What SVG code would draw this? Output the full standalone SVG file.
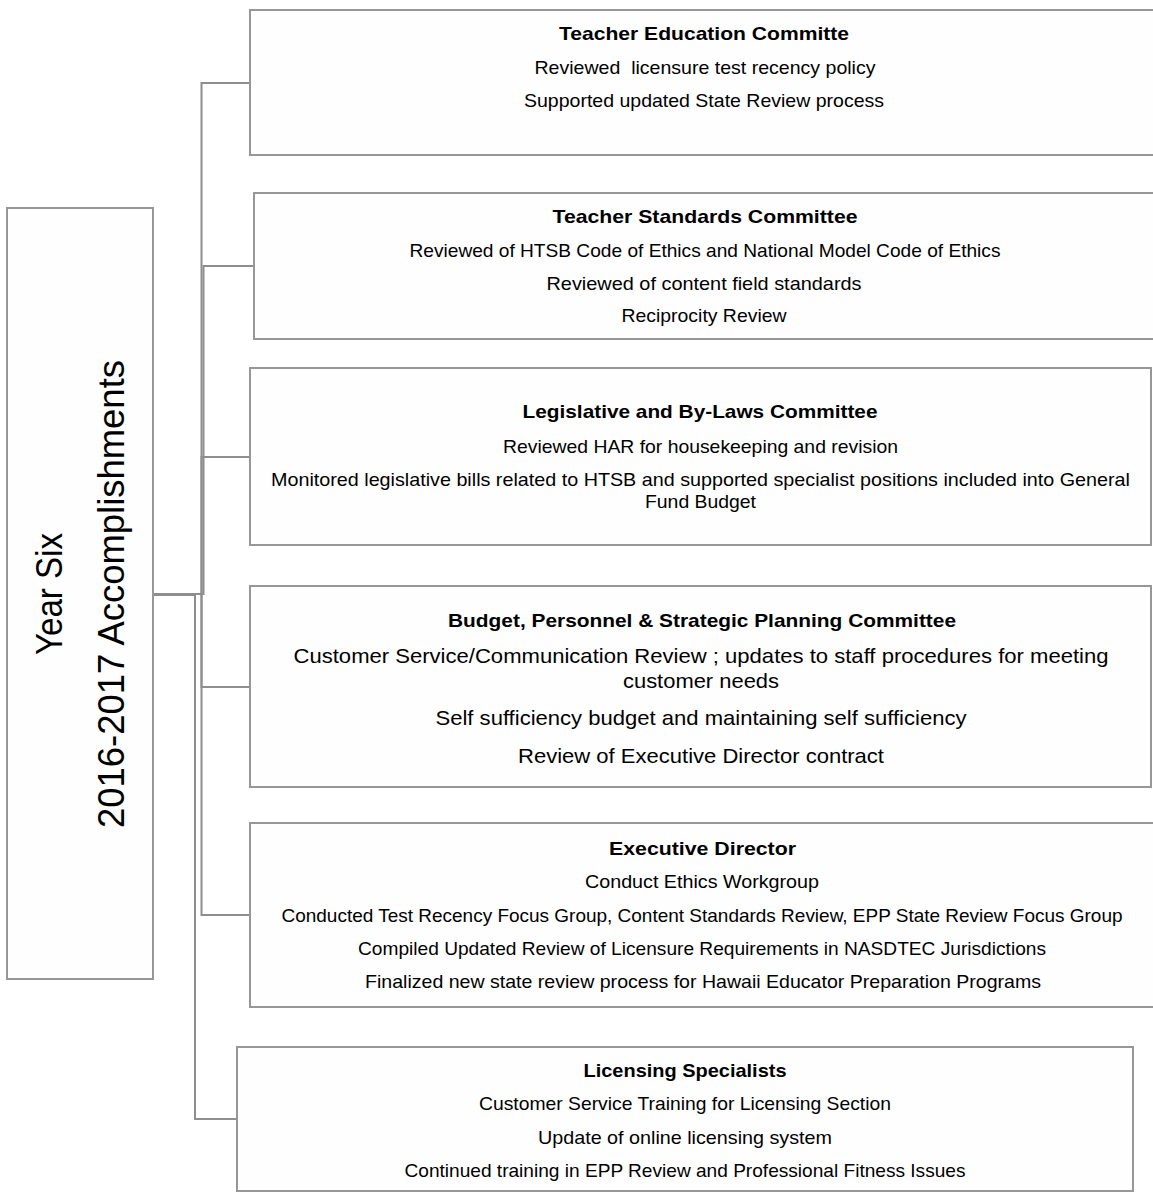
<svg xmlns="http://www.w3.org/2000/svg" width="1153" height="1193" viewBox="0 0 1153 1193">
<style>
.box{fill:#fefefe;stroke:#979797;stroke-width:2}
.conn{fill:none;stroke:#8e8e8e;stroke-width:2}
text{font-family:"Liberation Sans",Arial,sans-serif;fill:#000;text-anchor:middle}
.h{font-weight:bold;font-size:19px}
.t{font-size:19px}
.t2{font-size:21px}
.root{font-size:36px}
</style>
<rect width="1153" height="1193" fill="#ffffff"/>
<g id="connectors">
<path class="conn" d="M153,594 H201.5 V83 H250"/>
<path class="conn" d="M153,594 H203.5 V266 H254"/>
<path class="conn" d="M153,594 H201.5 V457 H250"/>
<path class="conn" d="M153,594 H201.5 V687 H250"/>
<path class="conn" d="M153,594 H201.5 V915 H250"/>
<path class="conn" d="M153,595 H195 V1119 H237"/>
</g>
<g id="root">
<rect class="box" x="7" y="208" width="146" height="771"/>
<text class="root" transform="translate(62,594) rotate(-90)" textLength="122" lengthAdjust="spacingAndGlyphs">Year Six</text>
<text class="root" transform="translate(124,594) rotate(-90)" textLength="468" lengthAdjust="spacingAndGlyphs">2016-2017 Accomplishments</text>
</g>
<g id="teacher-education">
<rect class="box" x="250" y="10" width="910" height="145"/>
<text class="h" x="704" y="40" textLength="290" lengthAdjust="spacingAndGlyphs">Teacher Education Committe</text>
<text class="t" x="705" y="74" textLength="341" lengthAdjust="spacingAndGlyphs" xml:space="preserve">Reviewed  licensure test recency policy</text>
<text class="t" x="704" y="107" textLength="360" lengthAdjust="spacingAndGlyphs">Supported updated State Review process</text>
</g>
<g id="teacher-standards">
<rect class="box" x="254" y="193" width="906" height="146"/>
<text class="h" x="705" y="223" textLength="305" lengthAdjust="spacingAndGlyphs">Teacher Standards Committee</text>
<text class="t" x="705" y="257" textLength="591" lengthAdjust="spacingAndGlyphs">Reviewed of HTSB Code of Ethics and National Model Code of Ethics</text>
<text class="t" x="704" y="290" textLength="315" lengthAdjust="spacingAndGlyphs">Reviewed of content field standards</text>
<text class="t" x="704" y="322" textLength="165" lengthAdjust="spacingAndGlyphs">Reciprocity Review</text>
</g>
<g id="legislative">
<rect class="box" x="250" y="368" width="901" height="177"/>
<text class="h" x="700" y="418" textLength="355" lengthAdjust="spacingAndGlyphs">Legislative and By-Laws Committee</text>
<text class="t" x="700.5" y="453" textLength="395" lengthAdjust="spacingAndGlyphs">Reviewed HAR for housekeeping and revision</text>
<text class="t" x="700.5" y="486" textLength="859" lengthAdjust="spacingAndGlyphs">Monitored legislative bills related to HTSB and supported specialist positions included into General</text>
<text class="t" x="700.5" y="508" textLength="111" lengthAdjust="spacingAndGlyphs">Fund Budget</text>
</g>
<g id="budget">
<rect class="box" x="250" y="586" width="901" height="201"/>
<text class="h" x="702" y="627" textLength="508" lengthAdjust="spacingAndGlyphs">Budget, Personnel &amp; Strategic Planning Committee</text>
<text class="t2" x="701" y="663" textLength="815" lengthAdjust="spacingAndGlyphs">Customer Service/Communication Review ; updates to staff procedures for meeting</text>
<text class="t2" x="701" y="688" textLength="156" lengthAdjust="spacingAndGlyphs">customer needs</text>
<text class="t2" x="701" y="725" textLength="531" lengthAdjust="spacingAndGlyphs">Self sufficiency budget and maintaining self sufficiency</text>
<text class="t2" x="701" y="763" textLength="366" lengthAdjust="spacingAndGlyphs">Review of Executive Director contract</text>
</g>
<g id="executive-director">
<rect class="box" x="250" y="823" width="906" height="184"/>
<text class="h" x="702.5" y="855" textLength="187" lengthAdjust="spacingAndGlyphs">Executive Director</text>
<text class="t" x="702" y="888" textLength="234" lengthAdjust="spacingAndGlyphs">Conduct Ethics Workgroup</text>
<text class="t" x="702" y="922" textLength="841" lengthAdjust="spacingAndGlyphs">Conducted Test Recency Focus Group, Content Standards Review, EPP State Review Focus Group</text>
<text class="t" x="702" y="955" textLength="688" lengthAdjust="spacingAndGlyphs">Compiled Updated Review of Licensure Requirements in NASDTEC Jurisdictions</text>
<text class="t" x="703" y="988" textLength="676" lengthAdjust="spacingAndGlyphs">Finalized new state review process for Hawaii Educator Preparation Programs</text>
</g>
<g id="licensing-specialists">
<rect class="box" x="237" y="1047" width="896" height="144"/>
<text class="h" x="685" y="1077" textLength="203" lengthAdjust="spacingAndGlyphs">Licensing Specialists</text>
<text class="t" x="685" y="1110" textLength="412" lengthAdjust="spacingAndGlyphs">Customer Service Training for Licensing Section</text>
<text class="t" x="685" y="1144" textLength="294" lengthAdjust="spacingAndGlyphs">Update of online licensing system</text>
<text class="t" x="685" y="1177" textLength="561" lengthAdjust="spacingAndGlyphs">Continued training in EPP Review and Professional Fitness Issues</text>
</g>
</svg>
